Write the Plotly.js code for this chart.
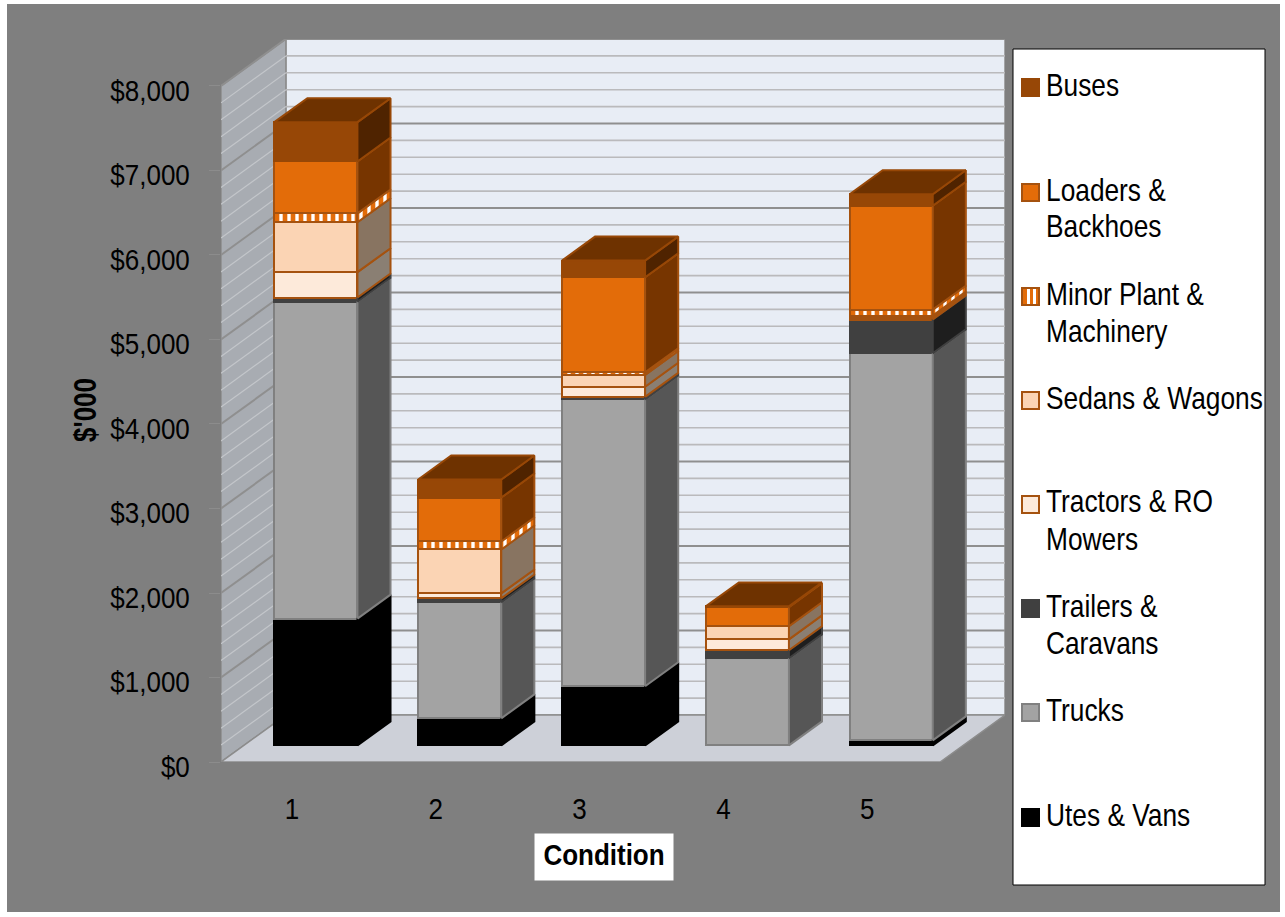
<!DOCTYPE html>
<html>
<head>
<meta charset="utf-8">
<script src="https://cdn.plot.ly/plotly-3.0.1.min.js"></script>
<style>html,body{margin:0;padding:0;background:#fff}</style>
</head>
<body>
<div id="chart" style="width:1285px;height:917px"></div>
<script>
// Fleet asset value by condition rating, stacked bottom to top, in $'000
const conditions = [1, 2, 3, 4, 5];
const utesVans = [1500, 320, 700, 0, 59];
const trucks = [3750, 1372, 3394, 1030, 4580];
const trailers = [50, 47, 30, 95, 400];
const tractors = [300, 59, 120, 130, 20];
const sedans = [590, 520, 140, 155, 27];
const minorPlant = [105, 95, 30, 0, 70];
const loaders = [615, 520, 1125, 225, 1230];
const buses = [465, 213, 198, 10, 136];

const seriesNames = ['Utes & Vans', 'Trucks', 'Trailers & Caravans', 'Tractors & RO Mowers',
  'Sedans & Wagons', 'Minor Plant & Machinery', 'Loaders & Backhoes', 'Buses'];
const seriesValues = [utesVans, trucks, trailers, tractors, sedans, minorPlant, loaders, buses];
const frontColors = ['#000000', '#a3a3a3', '#404040', '#fdeada', '#fbd4b4', '#e36c09', '#e36c09', '#974706'];
const sideColors = ['#000000', '#565656', '#1e1e1e', '#8a7f73', '#887461', '#e36c09', '#773500', '#4f2300'];
const edgeColors = ['#000000', '#808080', '#404040', '#a5520f', '#a5520f', '#a5520f', '#a5520f', '#974706'];
const topColor = '#6e3200';
const yTicks = [0, 1000, 2000, 3000, 4000, 5000, 6000, 7000, 8000];

// Oblique projection: depth z runs 0 (front of floor) to 1 (back wall)
const depthX = 0.451, depthY = 556;
const barFront = 0.354, barDepth = 0.51, barWidth = 0.578;
const px = (x, z) => x + z * depthX;
const py = (y, z) => y + z * depthY;

// Plot area in page pixels, used to place the page furniture
const W = 1285, H = 917;
const plot = {l: 221, r: 1005, t: 39, b: 762};
const paperX = p => (p - plot.l) / (plot.r - plot.l);
const paperY = p => (plot.b - p) / (plot.b - plot.t);
const xMin = 0.5, xMax = 5.5 + depthX, yMax = 8000 + depthY;

const poly = pts => 'M' + pts.map(p => p[0] + ',' + p[1]).join(' L') + ' Z';
const face = (x0, x1, y0, y1, z0, z1) => [[px(x0, z0), py(y0, z0)], [px(x1, z0), py(y0, z0)], [px(x1, z1), py(y1, z1)], [px(x0, z1), py(y1, z1)]];

const shapes = [];
// Chart panel behind everything
shapes.push({type: 'rect', xref: 'paper', yref: 'paper', layer: 'below', x0: paperX(7), x1: paperX(1280), y0: paperY(4), y1: paperY(912), fillcolor: '#7f7f7f', line: {width: 0}});
// Walls and floor
const wallEdge = '#8c8c8c';
shapes.push({type: 'path', xref: 'x', yref: 'y', layer: 'below', fillcolor: '#e8edf5', line: {color: wallEdge, width: 1.5},
  path: poly([[px(xMin, 1), py(0, 1)], [px(xMax - depthX, 1), py(0, 1)], [px(xMax - depthX, 1), py(8000, 1)], [px(xMin, 1), py(8000, 1)]])});
shapes.push({type: 'path', xref: 'x', yref: 'y', layer: 'below', fillcolor: '#a8acb2', line: {color: wallEdge, width: 1.5},
  path: poly([[px(xMin, 0), py(0, 0)], [px(xMin, 1), py(0, 1)], [px(xMin, 1), py(8000, 1)], [px(xMin, 0), py(8000, 0)]])});
shapes.push({type: 'path', xref: 'x', yref: 'y', layer: 'below', fillcolor: '#cdd0d8', line: {color: wallEdge, width: 1.5},
  path: poly([[px(xMin, 0), py(0, 0)], [px(xMax - depthX, 0), py(0, 0)], [px(xMax - depthX, 1), py(0, 1)], [px(xMin, 1), py(0, 1)]])});
// Gridlines on both walls: major every 1000, minor every 200
for (let v = 200; v <= 8000; v += 200) {
  const major = v % 1000 === 0;
  shapes.push({type: 'line', xref: 'x', yref: 'y', layer: 'below', x0: px(xMin, 1), x1: px(xMax - depthX, 1), y0: py(v, 1), y1: py(v, 1),
    line: {color: major ? '#8f8f8f' : '#bababc', width: major ? 2 : 1.6}});
  shapes.push({type: 'line', xref: 'x', yref: 'y', layer: 'below', x0: px(xMin, 0), x1: px(xMin, 1), y0: py(v, 0), y1: py(v, 1),
    line: {color: major ? '#8f8f8f' : '#c3c6ca', width: major ? 2 : 1.2}});
}
// Legend box
shapes.push({type: 'rect', xref: 'paper', yref: 'paper', x0: paperX(1013), x1: paperX(1265), y0: paperY(49), y1: paperY(885), fillcolor: '#ffffff', line: {color: '#000000', width: 1}});

const traces = [];
const isMinor = i => seriesNames[i].startsWith('Minor');
const stripes = {shape: '|', fgcolor: '#ffffff', bgcolor: '#e36c09', fgopacity: 1, size: 8, solidity: 0.42, fillmode: 'replace'};

// Front faces
const cumulative = conditions.map(() => 0);
seriesValues.forEach((vals, s) => {
  const bases = vals.map((v, i) => py(cumulative[i], barFront));
  traces.push({type: 'bar', name: seriesNames[s], x: conditions.map(c => px(c, barFront)), y: vals, base: bases, width: barWidth,
    marker: {color: frontColors[s], line: {color: edgeColors[s], width: 2}, pattern: isMinor(s) ? stripes : {shape: ''}},
    hoverinfo: 'name+y'});
  // Side face of each segment
  vals.forEach((v, i) => {
    if (v <= 0) { return; }
    const xr = conditions[i] + barWidth / 2;
    const a = cumulative[i], b = a + v;
    const pts = [[px(xr, barFront), py(a, barFront)], [px(xr, barFront + barDepth), py(a, barFront + barDepth)],
                 [px(xr, barFront + barDepth), py(b, barFront + barDepth)], [px(xr, barFront), py(b, barFront)]];
    pts.push(pts[0]);
    const t = {type: 'scatter', mode: 'lines', x: pts.map(p => p[0]), y: pts.map(p => p[1]), fill: 'toself', fillcolor: sideColors[s],
      line: {color: edgeColors[s], width: 2}, hoverinfo: 'skip', showlegend: false};
    if (isMinor(s)) { t.fillpattern = stripes; }
    traces.push(t);
    cumulative[i] = b;
  });
});
// Top face of each column
conditions.forEach((c, i) => {
  const pts = face(c - barWidth / 2, c + barWidth / 2, cumulative[i], cumulative[i], barFront, barFront + barDepth);
  pts.push(pts[0]);
  traces.push({type: 'scatter', mode: 'lines', x: pts.map(p => p[0]), y: pts.map(p => p[1]), fill: 'toself', fillcolor: topColor,
    line: {color: '#974706', width: 2}, hoverinfo: 'skip', showlegend: false});
});

// Legend entries, top to bottom
const FONT = '"Liberation Sans", Arial, sans-serif';
const legendEntries = [
  {s: 7, y: 78, lines: ['Buses']},
  {s: 6, y: 183, lines: ['Loaders &', 'Backhoes']},
  {s: 5, y: 287, lines: ['Minor Plant &', 'Machinery']},
  {s: 4, y: 391, lines: ['Sedans & Wagons']},
  {s: 3, y: 495, lines: ['Tractors & RO', 'Mowers']},
  {s: 2, y: 599, lines: ['Trailers &', 'Caravans']},
  {s: 1, y: 703, lines: ['Trucks']},
  {s: 0, y: 808, lines: ['Utes & Vans']}
];
const annotations = [];
legendEntries.forEach(e => {
  const swatch = {type: 'rect', xref: 'paper', yref: 'paper', x0: paperX(1022), x1: paperX(1039), y0: paperY(e.y + 1), y1: paperY(e.y + 18),
    fillcolor: frontColors[e.s], line: {color: edgeColors[e.s], width: 2}};
  if (isMinor(e.s)) {
    swatch.fillcolor = '#e36c09';
    shapes.push(swatch);
    [1027, 1033].forEach(x => shapes.push({type: 'rect', xref: 'paper', yref: 'paper', x0: paperX(x), x1: paperX(x + 3), y0: paperY(e.y + 2), y1: paperY(e.y + 17), fillcolor: '#ffffff', line: {width: 0}}));
  } else {
    shapes.push(swatch);
  }
  e.lines.forEach((line, k) => annotations.push({text: line, xref: 'paper', yref: 'paper', x: paperX(1044), y: paperY(e.y + 7.5 + 37 * k),
    xanchor: 'left', yanchor: 'middle', showarrow: false, font: {family: FONT, size: 26.3, color: '#000000'}}));
});
annotations.push({text: '<b>Condition</b>', xref: 'paper', yref: 'paper', x: paperX(604), y: paperY(857), xanchor: 'center', yanchor: 'middle', showarrow: false,
  bgcolor: '#ffffff', width: 136, height: 44, font: {family: FONT, size: 26, color: '#000000'}});
annotations.push({text: "<b>$'000</b>", xref: 'paper', yref: 'paper', x: paperX(85), y: paperY(410), xanchor: 'center', yanchor: 'middle', textangle: -90, showarrow: false,
  font: {family: FONT, size: 26, color: '#000000'}});

// The type on this chart is tall and slightly condensed: stretch each label about its own centre
function stretchText(el, sx, sy, dx, dy) {
  const b = el.getBBox();
  const cx = b.x + b.width / 2, cy = b.y + b.height / 2;
  const prev = el.getAttribute('transform') || '';
  el.setAttribute('transform', `${prev} translate(${cx + dx},${cy + dy}) scale(${sx},${sy}) translate(${-cx},${-cy})`);
}

Plotly.newPlot('chart', traces, {
  width: W, height: H, paper_bgcolor: '#ffffff', plot_bgcolor: 'rgba(0,0,0,0)',
  margin: {l: plot.l, r: W - plot.r, t: plot.t, b: H - plot.b, autoexpand: false},
  barmode: 'overlay', showlegend: false, bargap: 0,
  xaxis: {range: [xMin, xMax], tickmode: 'array', tickvals: conditions, ticktext: conditions.map(String), ticks: '', showgrid: false, zeroline: false, showline: false,
    ticklabelstandoff: 30, tickfont: {family: FONT, size: 26, color: '#000000'}},
  yaxis: {range: [0, yMax], tickmode: 'array', tickvals: yTicks, ticktext: yTicks.map(v => '$' + v.toLocaleString('en-US')), ticks: 'outside', ticklen: 11, tickcolor: '#8c8c8c', tickwidth: 1,
    showgrid: false, zeroline: false, showline: false, ticklabelstandoff: 14, tickfont: {family: FONT, size: 26, color: '#000000'}},
  shapes, annotations
}, {displayModeBar: false}).then(() => {
  const root = document.getElementById('chart');
  root.querySelectorAll('.ytick text').forEach(t => stretchText(t, 1, 1.16, 0, 4));
  root.querySelectorAll('.xtick text').forEach(t => stretchText(t, 1, 1.16, -1, -1));
  root.querySelectorAll('.annotation-text').forEach(t => {
    const label = t.textContent;
    stretchText(t, 1, label.startsWith('$') ? 1.23 : 1.16, 0, label === 'Condition' ? -2 : 0);
  });
});
</script>
</body>
</html>
